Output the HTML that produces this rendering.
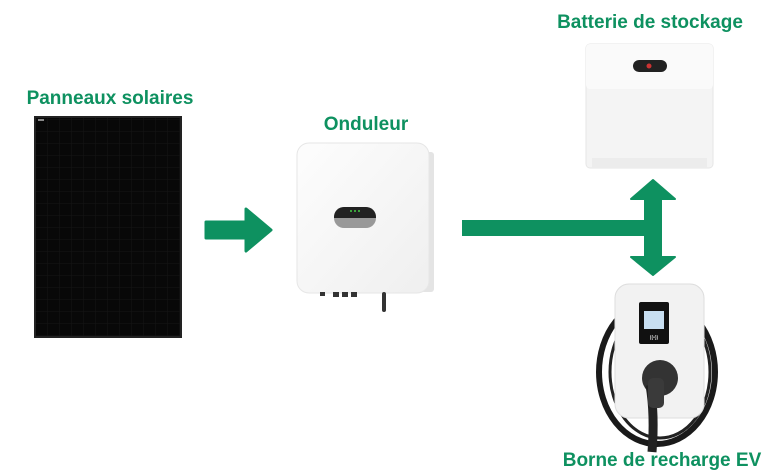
<!DOCTYPE html>
<html><head><meta charset="utf-8"><style>
html,body{margin:0;padding:0;background:#fff;}
svg{display:block}
text{font-family:"Liberation Sans",sans-serif;font-weight:bold;fill:#0e9160;}
</style></head><body>
<svg width="768" height="476" viewBox="0 0 768 476" xmlns="http://www.w3.org/2000/svg">
<defs>
<linearGradient id="inv" x1="0" y1="0" x2="1" y2="1"><stop offset="0" stop-color="#fdfdfd"/><stop offset="1" stop-color="#efefef"/></linearGradient>
<pattern id="grid" width="12" height="12" patternUnits="userSpaceOnUse"><rect width="12" height="12" fill="#080808"/><path d="M12 0V12M0 12H12" stroke="#161616" stroke-width="1"/></pattern>
</defs>
<text x="110" y="104" font-size="19" text-anchor="middle">Panneaux solaires</text>
<text x="366" y="130" font-size="19" text-anchor="middle">Onduleur</text>
<text x="650" y="28" font-size="19" text-anchor="middle">Batterie de stockage</text>
<text x="662" y="466" font-size="19" text-anchor="middle">Borne de recharge EV</text>

<!-- panel -->
<rect x="34" y="116" width="148" height="222" fill="#222"/>
<rect x="36" y="118" width="144" height="218" fill="url(#grid)"/>
<rect x="38" y="119" width="6" height="2" fill="#888"/>

<!-- arrow1 -->
<path d="M206 222H246V209L271 230L246 251V238H206Z" fill="#0e9160" stroke="#0e9160" stroke-width="3" stroke-linejoin="round"/>

<!-- inverter -->
<rect x="420" y="152" width="14" height="140" rx="3" fill="#e4e4e4"/>
<rect x="297" y="143" width="132" height="150" rx="12" fill="url(#inv)" stroke="#e6e6e6"/>
<rect x="334" y="207" width="42" height="21" rx="10" fill="#999"/>
<path d="M344 207H366A10 10 0 0 1 376 217V218H334V217A10 10 0 0 1 344 207Z" fill="#222"/>
<circle cx="351" cy="211" r="1" fill="#4c4"/><circle cx="355" cy="211" r="1" fill="#4c4"/><circle cx="359" cy="211" r="1" fill="#4c4"/>
<rect x="320" y="292" width="5" height="4" fill="#333"/><rect x="333" y="292" width="6" height="5" fill="#333"/><rect x="342" y="292" width="6" height="5" fill="#333"/><rect x="351" y="292" width="6" height="5" fill="#333"/>
<rect x="382" y="292" width="4" height="20" rx="2" fill="#333"/>

<!-- line and double arrow -->
<rect x="462" y="220" width="195" height="16" fill="#0e9160"/>
<path d="M653 180L675 199H661V257H675L653 275L631 257H645V199H631Z" fill="#0e9160" stroke="#0e9160" stroke-width="2" stroke-linejoin="round"/>

<!-- battery -->
<rect x="586" y="44" width="127" height="124" rx="4" fill="#f4f4f4" stroke="#e6e6e6"/>
<rect x="586" y="44" width="127" height="45" rx="4" fill="#fafafa"/>
<rect x="592" y="158" width="115" height="10" fill="#ececec"/>
<rect x="633" y="60" width="34" height="12" rx="6" fill="#222"/>
<circle cx="649" cy="66" r="2.5" fill="#c33"/>

<!-- charger -->
<ellipse cx="657" cy="372" rx="58" ry="72" fill="none" stroke="#1a1a1a" stroke-width="6"/>
<ellipse cx="660" cy="372" rx="50" ry="66" fill="none" stroke="#222" stroke-width="3"/>
<rect x="615" y="284" width="89" height="134" rx="14" fill="#f2f2f2" stroke="#ddd"/>
<rect x="639" y="302" width="30" height="42" rx="2" fill="#111"/>
<rect x="644" y="311" width="20" height="18" fill="#c8dff2"/>
<text x="654" y="339" font-size="5" text-anchor="middle" style="fill:#ccc">((•))</text>
<circle cx="660" cy="378" r="18" fill="#333"/>
<path d="M650 385Q655 415 652 452" stroke="#222" stroke-width="9" fill="none"/>
<rect x="648" y="378" width="16" height="30" rx="5" fill="#3a3a3a"/>
</svg>
</body></html>
